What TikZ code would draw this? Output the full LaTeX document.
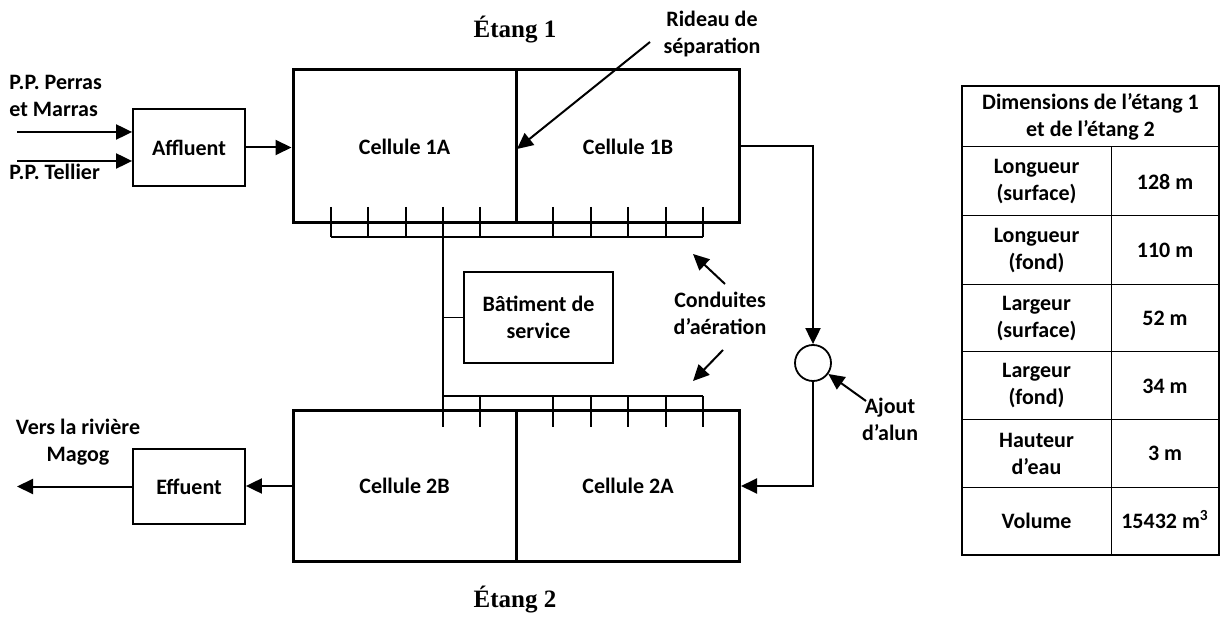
\documentclass[tikz,border=0pt]{standalone}
\usepackage{fontspec}
\usetikzlibrary{arrows.meta}
\newfontfamily\lab{Carlito}
\newfontfamily\titf{Liberation Serif}
\begin{document}
\begin{tikzpicture}[x=0.5pt,y=-0.5pt,
  every node/.style={font=\lab\bfseries\fontsize{11}{13.5}\selectfont, inner sep=0pt},
  cell/.style={draw, line width=1.5pt, minimum width=111.5pt, minimum height=76.5pt},
  cellb/.style={draw, line width=1.5pt, minimum width=111.5pt, minimum height=75pt},
  box/.style={draw, line width=0.9pt},
  flow/.style={line width=1pt, -{Triangle[length=8pt,width=7.5pt]}},
  pipe/.style={line width=0.9pt},
  txt/.style={align=center},
  tline/.style={line width=0.5pt},
  title/.style={font=\titf\bfseries\fontsize{12.5}{15}\selectfont}
]
\useasboundingbox (0,0) rectangle (1224,619);

% ponds
\node[cell] (c1A) at (404.5,146.5) {Cellule 1A};
\node[cell] (c1B) at (628,146.5) {Cellule 1B};
\node[cellb] (c2B) at (404.5,486) {Cellule 2B};
\node[cellb] (c2A) at (628,486) {Cellule 2A};

% boxes
\node[box, minimum width=56pt, minimum height=38.5pt] (aff) at (189,147.5) {Affluent};
\node[box, minimum width=56pt, minimum height=37.5pt] (eff) at (189,486.5) {Effuent};
\node[box, minimum width=74.5pt, minimum height=45.5pt, align=center] (bat) at (538.5,317.5) {Bâtiment de\\service};
\node[circle, draw, line width=0.9pt, minimum size=18pt] (alun) at (813,363) {};

% titles
\node[title] (e1) at (515,30) {Étang 1};
\node[title] (e2) at (515,600) {Étang 2};

% side labels
\node[align=left, anchor=west] (pp1) at (9,95.5) {P.P. Perras\\et Marras};
\node[anchor=west] (pp2) at (9,172) {P.P. Tellier};
\node[txt] (vers) at (78,442) {Vers la rivière\\Magog};
\node[txt] (rid) at (712,34) {Rideau de\\séparation};
\node[txt] (cond) at (720,313) {Conduites\\d’aération};
\node[txt] (ajout) at (890,419) {Ajout\\d’alun};

% inflows
\coordinate (in1) at (17,132);
\coordinate (in2) at (17,161);
\draw[flow] (in1) -- (in1 -| aff.west);
\draw[flow] (in2) -- (in2 -| aff.west);
\draw[flow] (aff.east) -- (aff.east -| c1A.west);
\draw[flow] (c1B.east) -| (alun.north);
\draw[flow] (alun.south) |- (c2A.east);
\draw[flow] (c2B.west) -- (c2B.west -| eff.east);
\coordinate (out) at (17,486.5);
\draw[flow] (eff.west) -- (out);

% annotation arrows
\coordinate (ridT) at (650,42);
\coordinate (ridH) at (517,149);
\draw[flow] (ridT) -- (ridH);
\coordinate (cu1) at (725,284);
\coordinate (cu2) at (693,254);
\draw[flow] (cu1) -- (cu2);
\coordinate (cd1) at (723,350);
\coordinate (cd2) at (693,381);
\draw[flow] (cd1) -- (cd2);
\coordinate (aj) at (866,401);
\draw[flow] (aj) -- (alun);

% aeration pipes
\foreach \x in {331,368,406,443,480,553,591,628,666,703}
  \draw[pipe] (\x,207) -- (\x,237);
\draw[pipe] (331,237) -- (703,237);
\coordinate (m1) at (443,237);
\coordinate (m2) at (443,396);
\draw[pipe] (m1) -- (m2);
\draw[pipe] (m2 |- bat.west) -- (bat.west);
\draw[pipe] (443,396) -- (703,396);
\foreach \x in {443,480,553,591,628,666,703}
  \draw[pipe] (\x,396) -- (\x,427);

% table
\draw[line width=1pt] (962,86) rectangle (1219,555);
\foreach \y in {147,216,285,352,420,487}
  \draw[tline] (962,\y) -- (1219,\y);
\draw[tline] (1111,147) -- (1111,555);
\node[txt] (th) at (1090.5,116.5) {Dimensions de l’étang 1\\et de l’étang 2};
\node[txt] (r1a) at (1036.5,181.5) {Longueur\\(surface)};
\node[txt] (r1b) at (1165,181.5) {128 m};
\node[txt] (r2a) at (1036.5,250.5) {Longueur\\(fond)};
\node[txt] (r2b) at (1165,250.5) {110 m};
\node[txt] (r3a) at (1036.5,318.5) {Largeur\\(surface)};
\node[txt] (r3b) at (1165,318.5) {52 m};
\node[txt] (r4a) at (1036.5,386) {Largeur\\(fond)};
\node[txt] (r4b) at (1165,386) {34 m};
\node[txt] (r5a) at (1036.5,453.5) {Hauteur\\d’eau};
\node[txt] (r5b) at (1165,453.5) {3 m};
\node[txt] (r6a) at (1036.5,521) {Volume};
\node[txt] (r6b) at (1165,521) {15432 m\smash{\textsuperscript{3}}};
\end{tikzpicture}
\end{document}
